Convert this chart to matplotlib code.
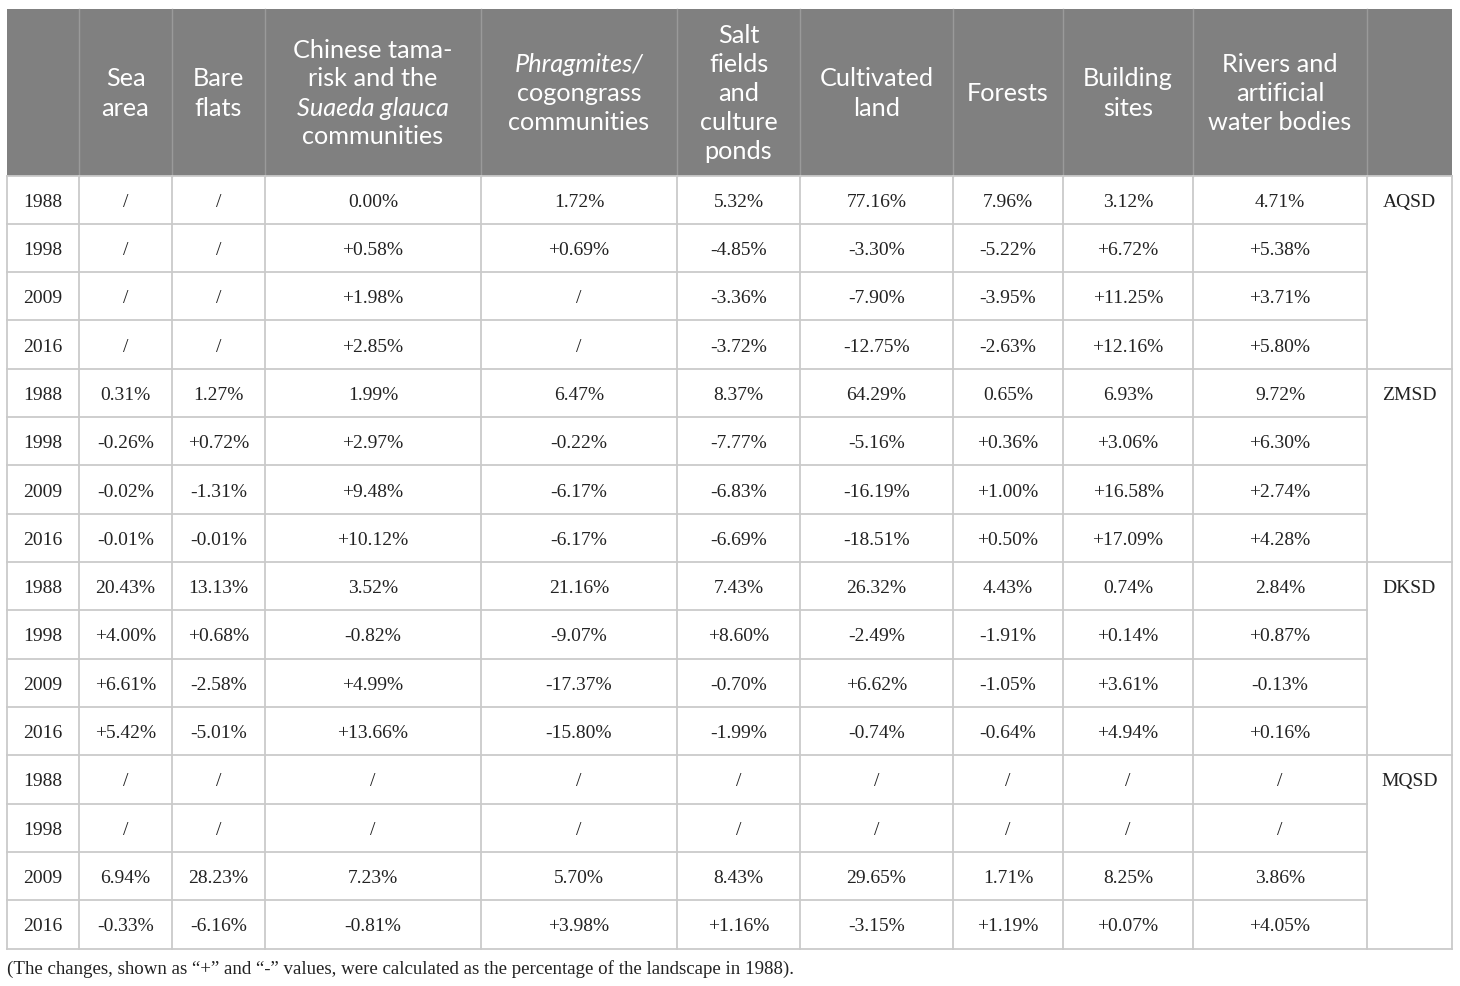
import matplotlib
matplotlib.use("Agg")
import matplotlib.pyplot as plt
from matplotlib.patches import Rectangle

# ---------------- data ----------------
header_lines = [
    [],
    [("Sea", "n"), ("area", "n")],
    [("Bare", "n"), ("flats", "n")],
    [("Chinese tama-", "n"), ("risk and the", "n"), ("Suaeda glauca", "i"), ("communities", "n")],
    [("Phragmites/", "i"), ("cogongrass", "n"), ("communities", "n")],
    [("Salt", "n"), ("fields", "n"), ("and", "n"), ("culture", "n"), ("ponds", "n")],
    [("Cultivated", "n"), ("land", "n")],
    [("Forests", "n")],
    [("Building", "n"), ("sites", "n")],
    [("Rivers and", "n"), ("artificial", "n"), ("water bodies", "n")],
    [],
]

years = ["1988", "1998", "2009", "2016"]
regions = ["AQSD", "ZMSD", "DKSD", "MQSD"]

aqsd = [
    ["/", "/", "0.00%", "1.72%", "5.32%", "77.16%", "7.96%", "3.12%", "4.71%"],
    ["/", "/", "+0.58%", "+0.69%", "-4.85%", "-3.30%", "-5.22%", "+6.72%", "+5.38%"],
    ["/", "/", "+1.98%", "/", "-3.36%", "-7.90%", "-3.95%", "+11.25%", "+3.71%"],
    ["/", "/", "+2.85%", "/", "-3.72%", "-12.75%", "-2.63%", "+12.16%", "+5.80%"],
]
zmsd = [
    ["0.31%", "1.27%", "1.99%", "6.47%", "8.37%", "64.29%", "0.65%", "6.93%", "9.72%"],
    ["-0.26%", "+0.72%", "+2.97%", "-0.22%", "-7.77%", "-5.16%", "+0.36%", "+3.06%", "+6.30%"],
    ["-0.02%", "-1.31%", "+9.48%", "-6.17%", "-6.83%", "-16.19%", "+1.00%", "+16.58%", "+2.74%"],
    ["-0.01%", "-0.01%", "+10.12%", "-6.17%", "-6.69%", "-18.51%", "+0.50%", "+17.09%", "+4.28%"],
]
dksd = [
    ["20.43%", "13.13%", "3.52%", "21.16%", "7.43%", "26.32%", "4.43%", "0.74%", "2.84%"],
    ["+4.00%", "+0.68%", "-0.82%", "-9.07%", "+8.60%", "-2.49%", "-1.91%", "+0.14%", "+0.87%"],
    ["+6.61%", "-2.58%", "+4.99%", "-17.37%", "-0.70%", "+6.62%", "-1.05%", "+3.61%", "-0.13%"],
    ["+5.42%", "-5.01%", "+13.66%", "-15.80%", "-1.99%", "-0.74%", "-0.64%", "+4.94%", "+0.16%"],
]
mqsd = [
    ["/", "/", "/", "/", "/", "/", "/", "/", "/"],
    ["/", "/", "/", "/", "/", "/", "/", "/", "/"],
    ["6.94%", "28.23%", "7.23%", "5.70%", "8.43%", "29.65%", "1.71%", "8.25%", "3.86%"],
    ["-0.33%", "-6.16%", "-0.81%", "+3.98%", "+1.16%", "-3.15%", "+1.19%", "+0.07%", "+4.05%"],
]
region_data = [aqsd, zmsd, dksd, mqsd]

footnote = ("(The changes, shown as \u201c+\u201d and \u201c-\u201d values, were calculated "
            "as the percentage of the landscape in 1988).")

# ---------------- layout ----------------
W, H = 1460, 986
col_x = [7, 79, 172, 265, 481, 677, 800, 953, 1063, 1193, 1367, 1452]
head_top, head_bot = 8.5, 175.5
table_bot = 948.5
n_rows = 16
row_h = (table_bot - head_bot) / n_rows

HEAD_BG = "#808080"
HEAD_SEP = "#9a9a9a"
GRID = "#cacaca"
TXT = "#222222"

sans = "Lato"
serif = "Liberation Serif"

fig = plt.figure(figsize=(W / 100, H / 100), dpi=100)
ax = fig.add_axes([0, 0, 1, 1])
ax.set_xlim(0, W)
ax.set_ylim(H, 0)
ax.axis("off")

# header background
ax.add_patch(Rectangle((col_x[0], head_top), col_x[-1] - col_x[0], head_bot - head_top,
                       facecolor=HEAD_BG, edgecolor="none", zorder=1))
for x in col_x[1:-1]:
    ax.plot([x, x], [head_top, head_bot], color=HEAD_SEP, lw=1.0, zorder=2)

# header text
line_sp = 29.0
head_c = (head_top + head_bot) / 2 + 1.5
for j, lines in enumerate(header_lines):
    if not lines:
        continue
    cx = (col_x[j] + col_x[j + 1]) / 2
    n = len(lines)
    for k, (txt, sty) in enumerate(lines):
        y = head_c + (k - (n - 1) / 2) * line_sp
        ax.text(cx, y, txt, ha="center", va="center", color="white",
                fontsize=18.2, family=sans,
                style="italic" if sty == "i" else "normal", zorder=3)

# body grid: vertical lines
for x in col_x:
    ax.plot([x, x], [head_bot, table_bot], color=GRID, lw=1.3, zorder=2)
# horizontal lines
for r in range(n_rows + 1):
    y = head_bot + r * row_h
    if r % 4 == 0:
        ax.plot([col_x[0], col_x[-1]], [y, y], color=GRID, lw=1.3, zorder=2)
    else:
        ax.plot([col_x[0], col_x[-2]], [y, y], color=GRID, lw=1.3, zorder=2)

# body text
for g, (reg, data) in enumerate(zip(regions, region_data)):
    for i, (yr, row) in enumerate(zip(years, data)):
        r = g * 4 + i
        yc = head_bot + (r + 0.5) * row_h + 2.5
        ax.text((col_x[0] + col_x[1]) / 2, yc, yr, ha="center", va="center",
                fontsize=14, family=serif, color=TXT, zorder=3)
        for j, val in enumerate(row):
            cx = (col_x[j + 1] + col_x[j + 2]) / 2
            ax.text(cx, yc, val, ha="center", va="center",
                    fontsize=14, family=serif, color=TXT, zorder=3)
    yc = head_bot + (g * 4 + 0.5) * row_h + 2.5
    ax.text((col_x[-2] + col_x[-1]) / 2, yc, reg, ha="center", va="center",
            fontsize=14, family=serif, color=TXT, zorder=3)

ax.text(col_x[0], 969, footnote, ha="left", va="center", fontsize=13.6,
        family=serif, color=TXT, zorder=3)

fig.savefig("out.png", dpi=100, facecolor="white")
